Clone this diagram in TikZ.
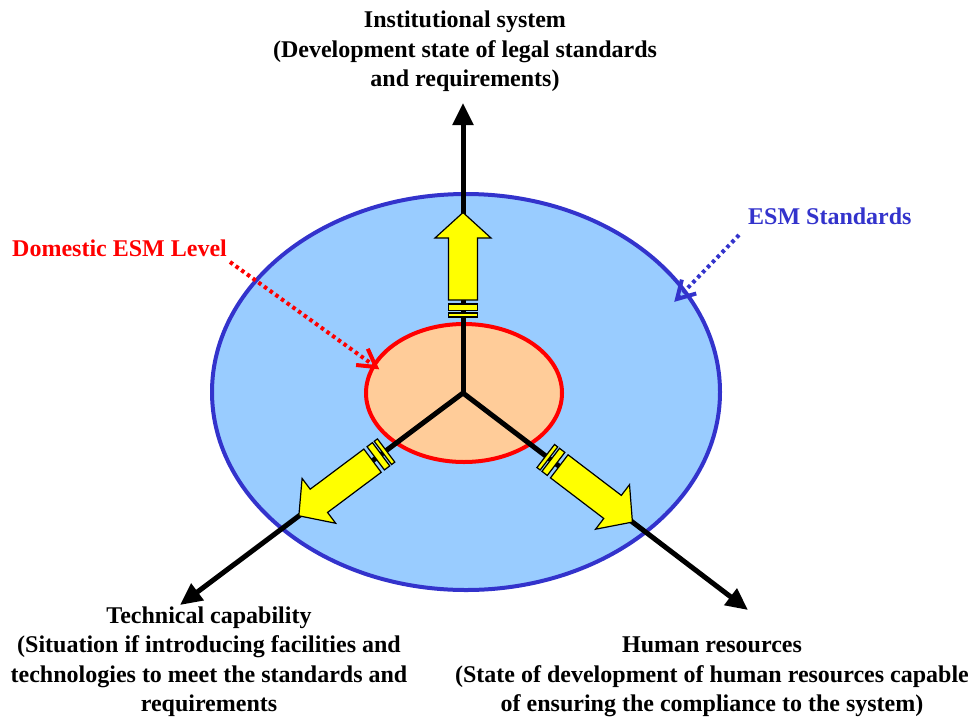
\documentclass[tikz,border=0pt]{standalone}
\usepackage{fontspec}
\setmainfont{Liberation Serif}
\usetikzlibrary{arrows.meta,shapes.geometric,calc}
\definecolor{skyb}{HTML}{99CCFF}
\definecolor{esmblue}{HTML}{3333CC}
\definecolor{peach}{HTML}{FFCC99}
\definecolor{yel}{HTML}{FFFF00}
\newcommand\yellowarrow[4]{%
  \begin{scope}[shift={(c)},rotate=#1]
    \path[yarr] (#2,-14.5) -- (#2+4,-14.5) -- (#2+4,14.5) -- (#2,14.5) -- cycle;
    \path[yarr] (#2+6.3,-14.5) -- (#2+13,-14.5) -- (#2+13,14.5) -- (#2+6.3,14.5) -- cycle;
    \path[yarr] (#2+17,-14.5) -- (#3,-14.5) -- (#3,-28) -- (#4,0) -- (#3,28) -- (#3,14.5) -- (#2+17,14.5) -- cycle;
  \end{scope}}
\begin{document}
\begin{tikzpicture}[x=1pt,y=-1pt,
  lbl/.style={font=\fontsize{24}{29.5}\selectfont\bfseries, align=center, inner sep=0pt},
  axisline/.style={line width=5pt, -{Triangle[length=22pt,width=20pt]}},
  yarr/.style={fill=yel, draw=black, line width=1.2pt, line join=miter},
  dotline/.style={line width=4pt, dash pattern=on 3.5pt off 3.5pt},
  barb/.style={line width=4pt, line join=miter, line cap=butt}]
\useasboundingbox (0,0) rectangle (971,718);
\coordinate (c) at (463,393);
% ellipses
\node (esm) [ellipse, draw=esmblue, line width=4pt, fill=skyb, minimum width=508pt, minimum height=396pt, inner sep=0pt] at (466,392) {};
\coordinate (bstart) at (739,235);
\coordinate (bend) at (677,299);
\draw[dotline, esmblue] (bstart) -- ($(bend)!3pt!(bstart)$);
\draw[barb, esmblue] ($(bend)!20pt!-30:(bstart)$) -- (bend) -- ($(bend)!20pt!30:(bstart)$);
\node (dom) [ellipse, draw=red, line width=4pt, fill=peach, minimum width=196pt, minimum height=138pt, inner sep=0pt] at (464,393) {};
% axes
\coordinate (tipU) at (463,103);
\coordinate (tipL) at (180,605);
\coordinate (tipR) at (748,610);
\draw[axisline] (c) -- (tipU);
\draw[axisline] (c) -- (tipL);
\draw[axisline] (c) -- (tipR);
% yellow arrows
\yellowarrow{90}{76}{155}{180.5}
\yellowarrow{216.8}{96}{180}{205}
\yellowarrow{-37.3}{104}{188}{213}
% red dotted arrow
\coordinate (rstart) at (230,262);
\coordinate (rend) at (376,367);
\draw[dotline, red] (rstart) -- ($(rend)!3pt!(rstart)$);
\draw[barb, red] ($(rend)!20pt!-30:(rstart)$) -- (rend) -- ($(rend)!20pt!30:(rstart)$);
% labels
\node (inst) [lbl] at (465,51.5) {Institutional system\\(Development state of legal standards\\and requirements)};
\node (tech) [lbl] at (209,661.5) {Technical capability\\(Situation if introducing facilities and\\technologies to meet the standards and\\requirements};
\node (hum) [lbl] at (712,677) {Human resources\\(State of development of human resources capable\\of ensuring the compliance to the system)};
\node (domlbl) [lbl, text=red, anchor=west] at (12,248) {Domestic ESM Level};
\node (esmlbl) [lbl, text=esmblue, anchor=west] at (748,216) {ESM Standards};
\end{tikzpicture}
\end{document}
